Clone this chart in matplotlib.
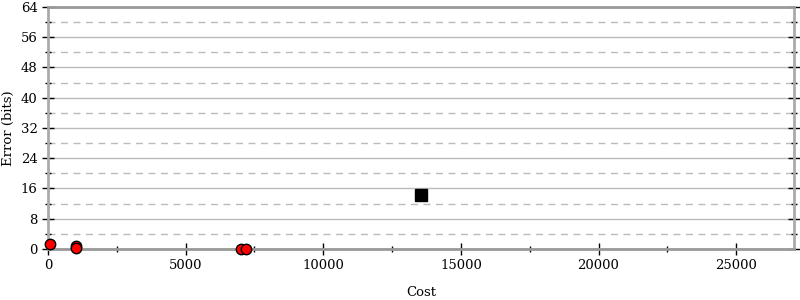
import matplotlib
matplotlib.use("Agg")
import matplotlib.pyplot as plt
from matplotlib.ticker import MultipleLocator

plt.rcParams["font.family"] = "DejaVu Serif"

# red circles (candidates) and black square (chosen)
cost_pts = [80, 1000, 1000, 7000, 7200]
err_pts = [1.2, 0.7, 0.3, 0.0, 0.0]
cost_best = [13550]
err_best = [14.3]

fig = plt.figure(figsize=(8, 3), dpi=100)
ax = fig.add_axes([0.06, 0.17, 0.9325, 0.807])

ax.plot(cost_pts, err_pts, "o", color="red", markeredgecolor="black",
        markersize=7.5, markeredgewidth=1, clip_on=False, zorder=5)
ax.plot(cost_best, err_best, "s", color="black", markersize=8.5, zorder=5)

ax.set_xlim(0, 27100)
ax.set_ylim(0, 64)
ax.xaxis.set_major_locator(MultipleLocator(5000))
ax.xaxis.set_minor_locator(MultipleLocator(2500))
ax.yaxis.set_major_locator(MultipleLocator(8))
ax.yaxis.set_minor_locator(MultipleLocator(4))

ax.grid(True, which="major", axis="y", color="#bbbbbb", linestyle="-", linewidth=1)
ax.grid(True, which="minor", axis="y", color="#bbbbbb", linestyle=(0, (5, 4)), linewidth=1)
ax.set_axisbelow(True)

for s in ax.spines.values():
    s.set_color("#aaaaaa")
    s.set_linewidth(2)
ax.spines["top"].set_color("#999999")
ax.spines["bottom"].set_color("#999999")

ax.tick_params(which="major", direction="inout", length=8, width=1,
               bottom=True, left=True, right=True, top=False, labelsize=9.5)
ax.tick_params(which="minor", direction="inout", length=5, width=1,
               bottom=True, left=True, right=True, top=False)

ax.set_xlabel("Cost", fontsize=9.5, labelpad=10)
ax.set_ylabel("Error (bits)", fontsize=9.5)

fig.savefig("out.png", dpi=100)
